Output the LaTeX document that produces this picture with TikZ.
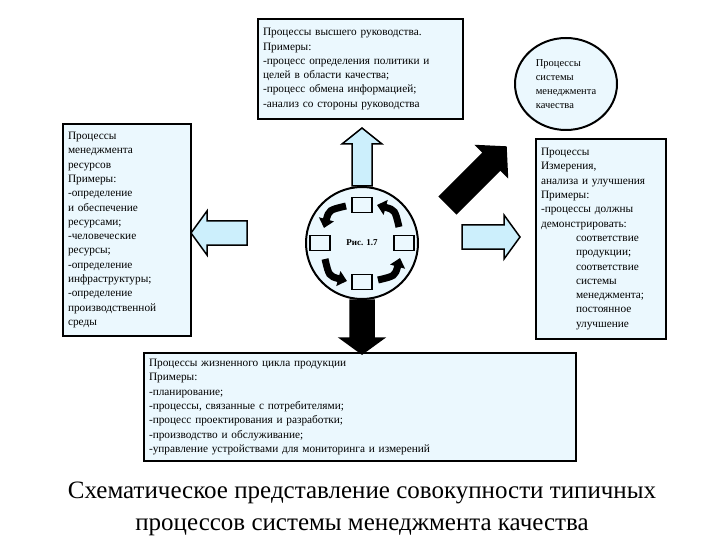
\documentclass[tikz,border=0pt]{standalone}
\usepackage{fontspec}
\setmainfont{Liberation Serif}
\usetikzlibrary{shapes.geometric,arrows.meta}
\begin{document}
\begin{tikzpicture}[x=1pt,y=-1pt,
  box/.style={draw=black,line width=2pt,fill=cyan!8,inner sep=5pt,anchor=north west,align=left,font=\fontsize{11.3}{14.3}\selectfont},
  fat/.style={draw=black,line width=1.5pt},
  sq/.style={draw=black,line width=1.2pt,fill=cyan!8,minimum width=20pt,minimum height=15pt,inner sep=0pt},
  cycarrow/.style={line width=7pt,-{Triangle[length=9pt,width=15pt]}}]
\useasboundingbox (0,0) rectangle (720,540);
\node[box,text width=195pt,minimum height=100pt] (top) at (257,18) {Процессы высшего руководства.\\Примеры:\\-процесс определения политики и\\ целей в области качества;\\-процесс обмена информацией;\\-анализ со стороны руководства};
\node[draw=black,line width=2pt,fill=cyan!8,ellipse,minimum width=102pt,minimum height=92pt,align=left,font=\fontsize{10.5}{14}\selectfont,inner sep=0pt] (circ) at (566,84) {Процессы\\системы\\менеджмента\\качества};
\node[box,text width=118pt,minimum height=212pt] (left) at (62,123) {Процессы\\менеджмента\\ресурсов\\Примеры:\\-определение\\и обеспечение\\ресурсами;\\-человеческие\\ресурсы;\\-определение\\инфраструктуры;\\-определение\\производственной\\среды};
\node[box,text width=120pt,minimum height=200pt] (right) at (535,138) {Процессы\\Измерения,\\анализа и улучшения\\Примеры:\\-процессы должны\\демонстрировать:\\\hspace*{35pt}соответствие\\\hspace*{35pt}продукции;\\\hspace*{35pt}соответствие\\\hspace*{35pt}системы\\\hspace*{35pt}менеджмента;\\\hspace*{35pt}постоянное\\\hspace*{35pt}улучшение};
\node[box,text width=422pt,minimum height=108pt] (bottom) at (143,352) {Процессы жизненного цикла продукции\\Примеры:\\-планирование;\\-процессы, связанные с потребителями;\\-процесс проектирования и разработки;\\-производство и обслуживание;\\-управление устройствами для мониторинга и измерений};
\node[circle,draw=black,line width=2pt,fill=cyan!8,minimum size=112pt,inner sep=0pt] (c) at (362,243) {};
\node[font=\bfseries\fontsize{9}{11}\selectfont] (lbl) at (362,243) {Рис. 1.7};
\node[sq] (s1) at (362,205) {};
\node[sq] (s2) at (320,243) {};
\node[sq] (s3) at (404,243) {};
\node[sq] (s4) at (362,282) {};
\draw[cycarrow] ([shift={(-16,-37)}]c.center) .. controls ([shift={(-33,-33)}]c.center) .. ([shift={(-38,-15)}]c.center);
\draw[cycarrow] ([shift={(-37,16)}]c.center) .. controls ([shift={(-33,33)}]c.center) .. ([shift={(-15,38)}]c.center);
\draw[cycarrow] ([shift={(16,37)}]c.center) .. controls ([shift={(33,33)}]c.center) .. ([shift={(38,15)}]c.center);
\draw[cycarrow] ([shift={(37,-16)}]c.center) .. controls ([shift={(33,-33)}]c.center) .. ([shift={(15,-38)}]c.center);
\begin{scope}[shift={(c.north)},rotate=90]
\draw[fat,fill=cyan!20] (0,-10) -- (42,-10) -- (42,-20) -- (58,0) -- (42,20) -- (42,10) -- (0,10) -- cycle;
\end{scope}
\begin{scope}[shift={(c.south)},rotate=-90]
\draw[fat,fill=black] (0,-12) -- (38,-12) -- (38,-22) -- (54,0) -- (38,22) -- (38,12) -- (0,12) -- cycle;
\end{scope}
\begin{scope}[shift={(462,237)}]
\draw[fat,fill=cyan!20] (0,-12) -- (42,-12) -- (42,-22) -- (58,0) -- (42,22) -- (42,12) -- (0,12) -- cycle;
\end{scope}
\begin{scope}[shift={(247,233)},rotate=180]
\draw[fat,fill=cyan!20] (0,-12) -- (40,-12) -- (40,-22) -- (56,0) -- (40,22) -- (40,12) -- (0,12) -- cycle;
\end{scope}
\begin{scope}[shift={(448,205)},rotate=45]
\draw[fat,fill=black] (0,-12) -- (62,-12) -- (62,-22) -- (82,0) -- (62,22) -- (62,12) -- (0,12) -- cycle;
\end{scope}
\node[font=\fontsize{25}{32}\selectfont,align=center] (title) at (362,509) {Схематическое представление совокупности типичных\\процессов системы менеджмента качества};
\end{tikzpicture}
\end{document}
